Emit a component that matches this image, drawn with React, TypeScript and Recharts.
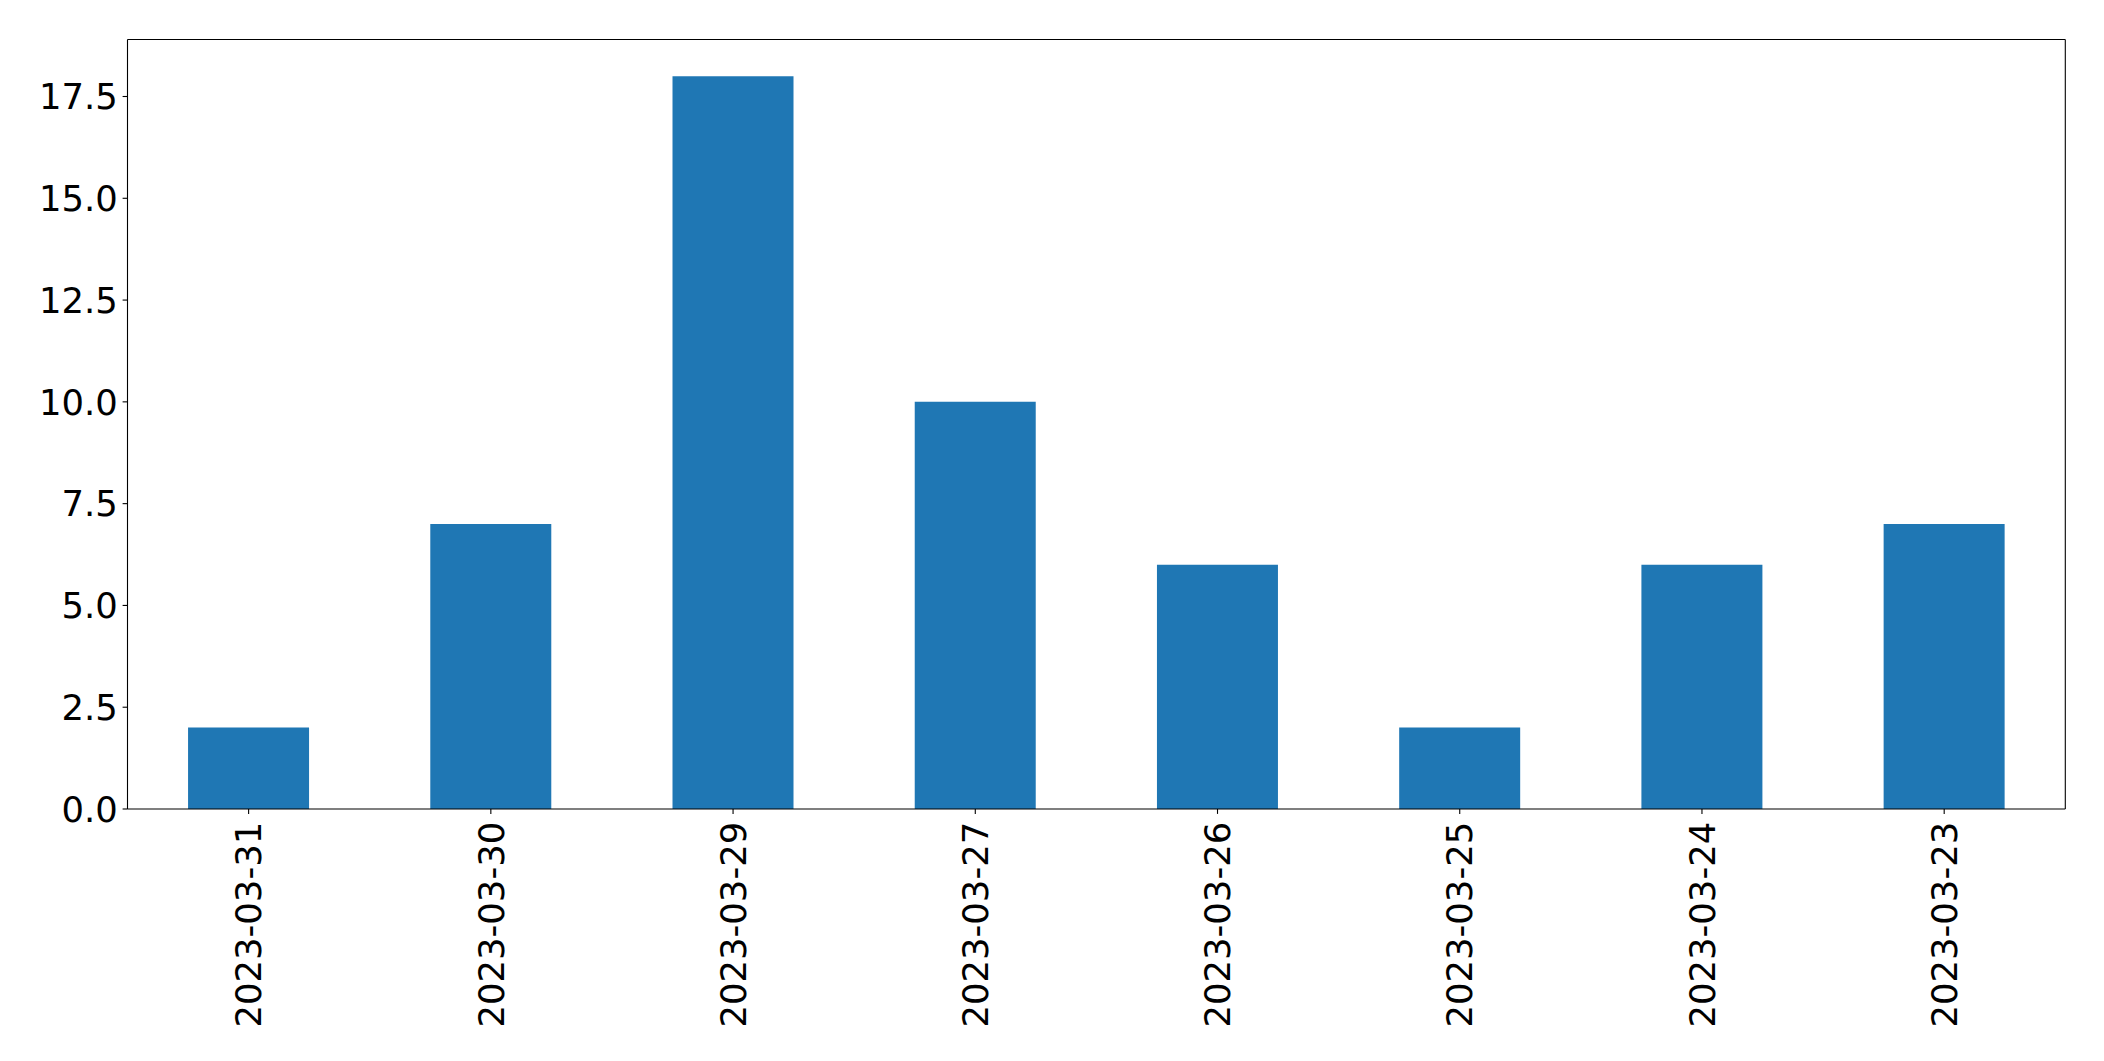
import React from "react";
import { BarChart, Bar, XAxis, YAxis } from "recharts";

const categories = ["2023-03-31", "2023-03-30", "2023-03-29", "2023-03-27", "2023-03-26", "2023-03-25", "2023-03-24", "2023-03-23"];
const counts = [2, 7, 18, 10, 6, 2, 6, 7];
const yTicks = [0, 2.5, 5, 7.5, 10, 12.5, 15, 17.5];

const data = categories.map((c, i) => ({ date: c, value: counts[i] }));

const FONT = "DejaVu Sans";
const FS = 35.4;

const XTick = (props: any) => {
  const { x, y, payload } = props;
  return (
    <text
      x={0}
      y={0}
      transform={`translate(${x},${y + 3}) rotate(-90)`}
      textAnchor="end"
      dy="0.36em"
      fontFamily={FONT}
      fontSize={FS}
      fill="#000"
    >
      {payload.value}
    </text>
  );
};

const YTick = (props: any) => {
  const { x, y, payload } = props;
  return (
    <text x={x} y={y} textAnchor="end" dy="0.36em" fontFamily={FONT} fontSize={FS} fill="#000">
      {Number(payload.value).toFixed(1)}
    </text>
  );
};

export default function App() {
  return (
    <div style={{ position: "absolute", left: 0, top: 0, width: 2104, height: 1061, background: "#fff" }}>
      <BarChart
        width={2104}
        height={1061}
        data={data}
        margin={{ top: 38.5, right: 37.7, bottom: 0, left: 0 }}
        barCategoryGap="25%"
      >
        <XAxis
          dataKey="date"
          xAxisId="main"
          height={252}
          interval={0}
          tickSize={4.9}
          tickMargin={4.9}
          tick={<XTick />}
          axisLine={{ stroke: "#000", strokeWidth: 1.1 }}
          tickLine={{ stroke: "#000", strokeWidth: 1.1 }}
        />
        <XAxis
          dataKey="date"
          xAxisId="top"
          orientation="top"
          height={1}
          tick={false}
          tickLine={false}
          axisLine={{ stroke: "#000", strokeWidth: 1.1 }}
        />
        <YAxis
          yAxisId="main"
          type="number"
          domain={[0, 18.9]}
          ticks={yTicks}
          width={127.5}
          tickSize={4.9}
          tickMargin={4.9}
          tick={<YTick />}
          axisLine={{ stroke: "#000", strokeWidth: 1.1 }}
          tickLine={{ stroke: "#000", strokeWidth: 1.1 }}
        />
        <YAxis
          yAxisId="right"
          orientation="right"
          type="number"
          domain={[0, 18.9]}
          width={1}
          tick={false}
          tickLine={false}
          axisLine={{ stroke: "#000", strokeWidth: 1.1 }}
        />
        <Bar dataKey="value" xAxisId="main" yAxisId="main" fill="#1f77b4" isAnimationActive={false} />
      </BarChart>
    </div>
  );
}
